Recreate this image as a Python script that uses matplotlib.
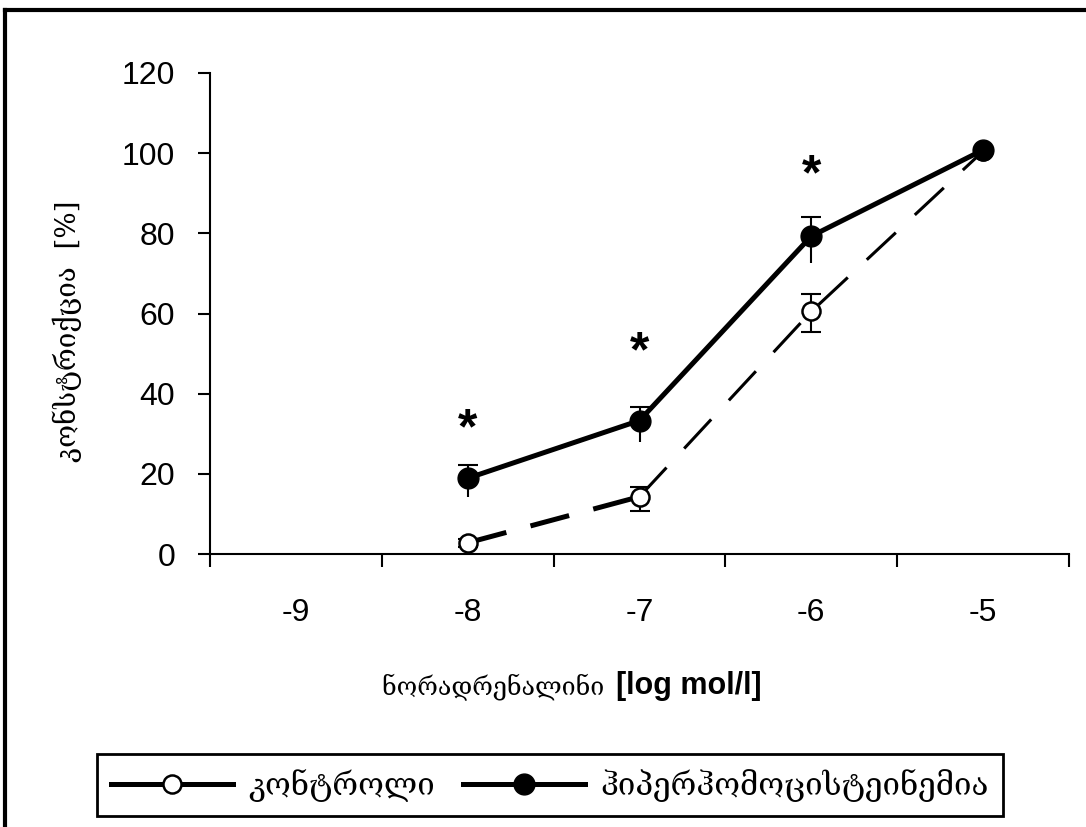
import matplotlib
matplotlib.use("Agg")
import matplotlib.pyplot as plt
from matplotlib.lines import Line2D
import numpy as np

# data
categories = [-9, -8, -7, -6, -5]
conc = [-8, -7, -6, -5]
control = [2.8, 14.3, 60.5, 100.5]
control_err_lo = [1.0, 3.6, 5.1, 0.5]
control_err_up = [1.0, 2.5, 4.4, 0.5]
hyper = [18.9, 33.3, 79.3, 100.8]
hyper_err_lo = [4.6, 5.3, 6.8, 0.5]
hyper_err_up = [3.2, 3.3, 4.8, 0.5]
star_x = [-8, -7, -6]
star_y = [33.4, 52.6, 96.6]

label_control = "კონტროლი"
label_hyper = "ჰიპერჰომოცისტეინემია"
ylabel = "კონსტრიქცია  [%]"
xlabel_geo = "ნორადრენალინი"
xlabel_unit = "[log mol/l]"

geo_font = ["DejaVu Serif", "DejaVu Sans"]
plt.rcParams["font.family"] = ["Liberation Sans", "DejaVu Sans"]

W, H = 1086, 827
fig = plt.figure(figsize=(W / 100, H / 100), dpi=100)
ax = fig.add_axes([210 / W, 1 - 554 / H, (1069 - 210) / W, (554 - 73) / H])

# control series (dashed, open circles)
ax.errorbar(conc, control, yerr=[control_err_lo, control_err_up], fmt="none",
            ecolor="black", elinewidth=1.5, capsize=7, capthick=1.5, zorder=2)
ax.plot(conc[:2], control[:2], color="black", lw=3.6, dashes=(8, 5), zorder=3)
ax.plot(conc[1:], control[1:], color="black", lw=2.2, dashes=(13, 8.5), zorder=3)
ax.plot(conc, control, ls="none", marker="o", ms=13, mfc="white", mec="black",
        mew=1.8, zorder=4)

# hyperhomocysteinemia series (solid, filled circles)
zeros = np.zeros(len(conc))
ax.errorbar(conc, hyper, yerr=[zeros, hyper_err_up], fmt="none",
            ecolor="black", elinewidth=1.5, capsize=7, capthick=1.5, zorder=5)
ax.errorbar(conc, hyper, yerr=[hyper_err_lo, zeros], fmt="none",
            ecolor="black", elinewidth=1.5, capsize=0, zorder=5)
ax.plot(conc, hyper, color="black", lw=3.6, marker="o", ms=15, mfc="black",
        mec="black", zorder=6)

for sx, sy in zip(star_x, star_y):
    ax.annotate("*", (sx, sy), xytext=(0, -7), textcoords="offset points",
                ha="center", va="center", fontsize=36, fontweight="bold",
                zorder=7)

ax.set_xlim(categories[0] - 0.5, categories[-1] + 0.5)
ax.set_ylim(0, 120)
ax.set_yticks(np.arange(0, 121, 20))
ax.set_xticks(np.arange(categories[0] - 0.5, categories[-1] + 0.51, 1.0))
ax.set_xticklabels([])
ax.set_xticks(categories, minor=True)
ax.set_xticklabels([str(c) for c in categories], minor=True)

for side in ["top", "right"]:
    ax.spines[side].set_visible(False)
for side in ["left", "bottom"]:
    ax.spines[side].set_linewidth(1.5)
ax.tick_params(axis="both", which="major", direction="out", length=9,
               width=1.5, labelsize=23)
ax.tick_params(axis="y", pad=16)
ax.tick_params(axis="x", which="minor", length=0, labelsize=23, pad=32)

ax.set_ylabel(ylabel, family=geo_font, fontsize=20)
ax.yaxis.set_label_coords(82 / W, 0.5, transform=fig.transFigure)
ax.yaxis.label.set_y(1 - 331 / H)

fig.text(612 / W, 1 - 694 / H, xlabel_geo + " ", family=geo_font, fontsize=18,
         ha="right", va="baseline")
fig.text(616 / W, 1 - 694 / H, xlabel_unit, fontsize=22, fontweight="bold",
         ha="left", va="baseline")

handles = [
    Line2D([], [], color="black", lw=3.6, marker="o", ms=13, mfc="white",
           mec="black", mew=1.8),
    Line2D([], [], color="black", lw=3.6, marker="o", ms=15, mfc="black",
           mec="black"),
]
leg = fig.legend(handles, [label_control, label_hyper], loc="center",
                 bbox_to_anchor=(550 / W, 1 - 785 / H), ncol=2, fancybox=False,
                 edgecolor="black", framealpha=1,
                 prop={"family": geo_font, "size": 22.5},
                 handlelength=3.9, handletextpad=0.5, columnspacing=0.9,
                 borderpad=0.45, borderaxespad=0)
leg.get_frame().set_linewidth(2)

# outer frame (only top and left visible in the reference)
fig.add_artist(Line2D([5 / W, 1.0], [1 - 10 / H, 1 - 10 / H], color="black",
                      lw=3, transform=fig.transFigure))
fig.add_artist(Line2D([5 / W, 5 / W], [0, 1 - 10 / H], color="black",
                      lw=3, transform=fig.transFigure))

fig.savefig("out.png", dpi=100)
